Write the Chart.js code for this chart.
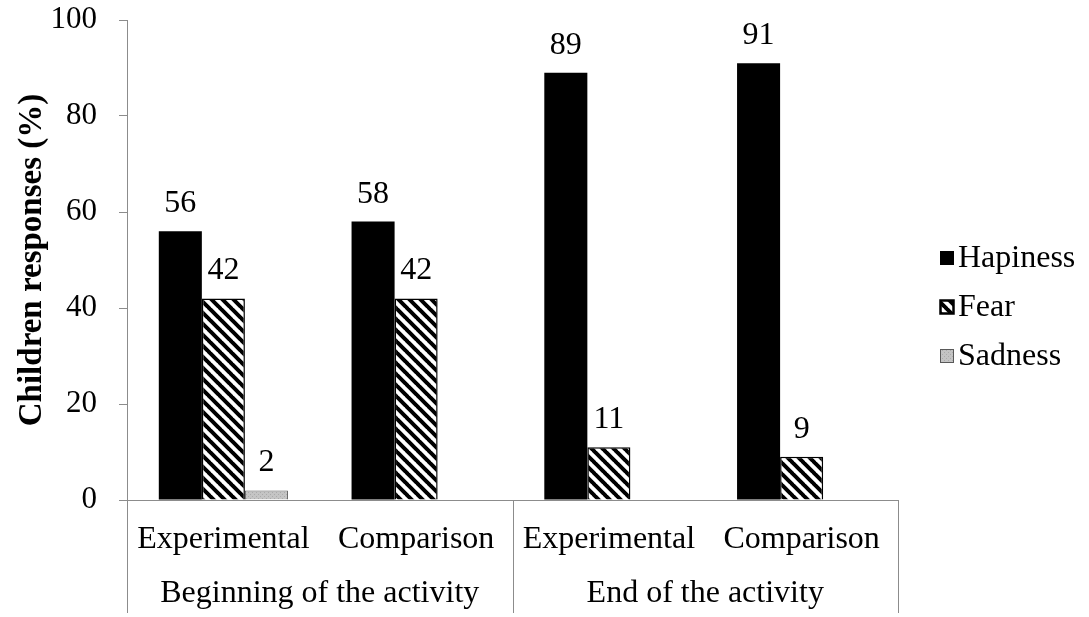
<!DOCTYPE html>
<html>
<head>
<meta charset="utf-8">
<script src="https://cdn.jsdelivr.net/npm/chart.js@4/dist/chart.umd.min.js"></script>
<style>
  html, body { margin: 0; padding: 0; background: #ffffff; }
  #wrap { width: 1089px; height: 617px; }
</style>
</head>
<body>
<div id="wrap"><canvas id="chart" width="1089" height="617"></canvas></div>
<script>
// Categories along the x axis and the two phases they belong to
const categories = ['Experimental', 'Comparison', 'Experimental', 'Comparison'];
const phases = ['Beginning of the activity', 'End of the activity'];
const categoriesPerPhase = 2;

// Share of children giving each response (%)
const hapiness = [56, 58, 89, 91];
const fear = [42, 42, 11, 9];
const sadness = [2, null, null, null];

const seriesNames = ['Hapiness', 'Fear', 'Sadness'];
const yTicks = [0, 20, 40, 60, 80, 100];

const FONT = '"Liberation Serif", "Times New Roman", serif';
const FONT_SIZE = 32;
const TICK_SIZE = 31;
const AXIS_GREY = '#8c8c8c';

// Diagonal black-and-white hatching for the Fear bars
function makeHatch() {
  const s = 11;
  const c = document.createElement('canvas');
  c.width = s; c.height = s;
  const g = c.getContext('2d');
  g.fillStyle = '#ffffff';
  g.fillRect(0, 0, s, s);
  g.strokeStyle = '#000000';
  g.lineWidth = 4;
  g.beginPath();
  for (const o of [-s, 0, s]) {
    g.moveTo(o - 1, -1);
    g.lineTo(o + s + 1, s + 1);
  }
  g.stroke();
  return g.createPattern(c, 'repeat');
}

// Light grey fill with a faint dotted texture for the Sadness bars
function makeGrain() {
  const c = document.createElement('canvas');
  c.width = 4; c.height = 4;
  const g = c.getContext('2d');
  g.fillStyle = '#c4c4c4';
  g.fillRect(0, 0, 4, 4);
  g.fillStyle = '#aaaaaa';
  g.fillRect(0, 0, 1, 1);
  g.fillRect(2, 2, 1, 1);
  return g.createPattern(c, 'repeat');
}

const hatch = makeHatch();
const grain = makeGrain();

// Values printed above each bar
const valueLabels = {
  id: 'valueLabels',
  afterDatasetsDraw(chart) {
    const ctx = chart.ctx;
    ctx.save();
    ctx.font = FONT_SIZE + 'px ' + FONT;
    ctx.fillStyle = '#000';
    ctx.textAlign = 'center';
    ctx.textBaseline = 'alphabetic';
    chart.data.datasets.forEach((ds, i) => {
      const meta = chart.getDatasetMeta(i);
      meta.data.forEach((bar, j) => {
        const v = ds.data[j];
        if (v === null || v === undefined) return;
        ctx.fillText(String(v), bar.x, bar.y - 19);
      });
    });
    ctx.restore();
  }
};

// Phase labels under the categories, with the separating lines
const phaseAxis = {
  id: 'phaseAxis',
  afterDraw(chart) {
    const ctx = chart.ctx;
    const x = chart.scales.x;
    const area = chart.chartArea;
    const bottom = chart.height - 4;
    const n = categories.length;
    const step = (x.right - x.left) / n;
    ctx.save();
    ctx.strokeStyle = AXIS_GREY;
    ctx.lineWidth = 1;
    for (let p = 0; p <= phases.length; p++) {
      const px = Math.round(x.left + p * categoriesPerPhase * step) + 0.5;
      ctx.beginPath();
      ctx.moveTo(px, area.bottom);
      ctx.lineTo(px, bottom);
      ctx.stroke();
    }
    ctx.font = FONT_SIZE + 'px ' + FONT;
    ctx.fillStyle = '#000';
    ctx.textAlign = 'center';
    ctx.textBaseline = 'middle';
    phases.forEach((name, p) => {
      const first = x.getPixelForValue(p * categoriesPerPhase);
      const last = x.getPixelForValue(p * categoriesPerPhase + categoriesPerPhase - 1);
      ctx.fillText(name, (first + last) / 2, area.bottom + 94);
    });
    ctx.restore();
  }
};

// Legend at the right of the plot
const sideLegend = {
  id: 'sideLegend',
  afterDraw(chart) {
    const ctx = chart.ctx;
    const area = chart.chartArea;
    const bx = area.right + 42;
    const y0 = 258;
    const gap = 49;
    const box = 14;
    ctx.save();
    ctx.font = FONT_SIZE + 'px ' + FONT;
    ctx.textAlign = 'left';
    ctx.textBaseline = 'middle';
    chart.data.datasets.forEach((ds, i) => {
      const cy = y0 + i * gap;
      ctx.fillStyle = ds.backgroundColor;
      ctx.fillRect(bx, cy - box / 2, box, box);
      if (ds.borderWidth) {
        ctx.strokeStyle = ds.borderColor;
        ctx.lineWidth = i === 1 ? 2.5 : 1;
        ctx.strokeRect(bx + 0.5, cy - box / 2 + 0.5, box - 1, box - 1);
      }
      ctx.fillStyle = '#000';
      ctx.fillText(ds.label, bx + box + 4, cy + 1);
    });
    ctx.restore();
  }
};

new Chart(document.getElementById('chart'), {
  type: 'bar',
  data: {
    labels: categories,
    datasets: [
      { label: seriesNames[0], data: hapiness, backgroundColor: '#000000', borderColor: '#000000', borderWidth: 0 },
      { label: seriesNames[1], data: fear, backgroundColor: hatch, borderColor: '#000000', borderWidth: 1.5 },
      { label: seriesNames[2], data: sadness, backgroundColor: grain, borderColor: '#595959', borderWidth: 1 }
    ]
  },
  options: {
    responsive: false,
    animation: false,
    events: [],
    datasets: { bar: { categoryPercentage: 0.67, barPercentage: 1.0, skipNull: false } },
    layout: { padding: { top: 0, right: 191, bottom: 0, left: 0 } },
    plugins: { legend: { display: false }, tooltip: { enabled: false } },
    scales: {
      x: {
        grid: { display: false, drawTicks: false },
        border: { display: true, color: AXIS_GREY, width: 1 },
        ticks: { color: '#000', font: { family: FONT, size: FONT_SIZE }, padding: 20, maxRotation: 0, autoSkip: false },
        afterFit(scale) { scale.height = 117; }
      },
      y: {
        min: 0,
        max: 100,
        afterBuildTicks(scale) { scale.ticks = yTicks.map(v => ({ value: v })); },
        grid: { drawOnChartArea: false, drawTicks: true, tickLength: 8, color: AXIS_GREY },
        border: { display: true, color: AXIS_GREY, width: 1 },
        ticks: { color: '#000', font: { family: FONT, size: TICK_SIZE }, padding: 22 },
        title: {
          display: true,
          text: 'Children responses (%)',
          color: '#000',
          font: { family: FONT, size: 33, weight: 'bold' },
          padding: { top: 13, bottom: 0 }
        },
        afterFit(scale) {
          scale.width = 127;
          scale.paddingTop = 20;
          scale.paddingBottom = 0;
        }
      }
    }
  },
  plugins: [valueLabels, phaseAxis, sideLegend]
});
</script>
</body>
</html>
